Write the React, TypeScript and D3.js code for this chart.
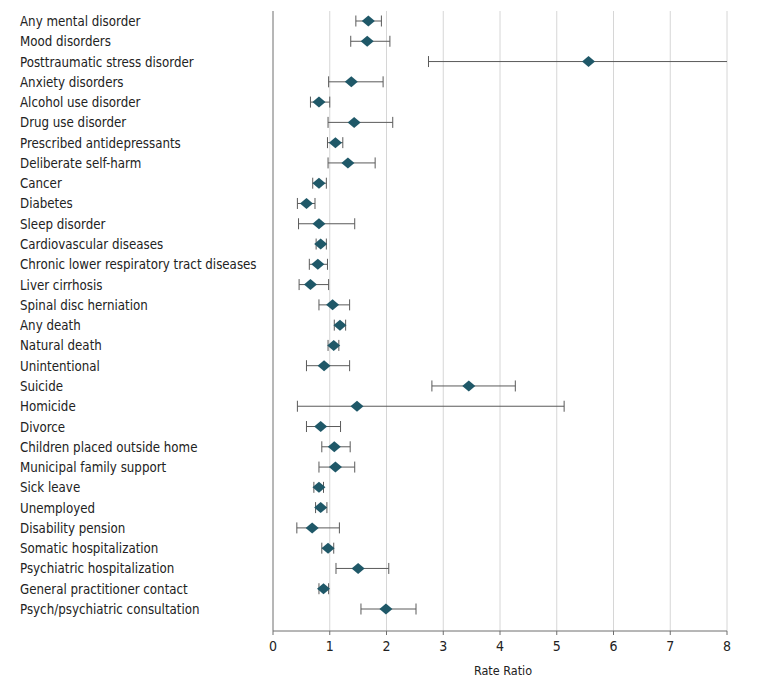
import React from "react";
import * as d3 from "d3";

const categories: string[] = [
  "Any mental disorder",
  "Mood disorders",
  "Posttraumatic stress disorder",
  "Anxiety disorders",
  "Alcohol use disorder",
  "Drug use disorder",
  "Prescribed antidepressants",
  "Deliberate self-harm",
  "Cancer",
  "Diabetes",
  "Sleep disorder",
  "Cardiovascular diseases",
  "Chronic lower respiratory tract diseases",
  "Liver cirrhosis",
  "Spinal disc herniation",
  "Any death",
  "Natural death",
  "Unintentional",
  "Suicide",
  "Homicide",
  "Divorce",
  "Children placed outside home",
  "Municipal family support",
  "Sick leave",
  "Unemployed",
  "Disability pension",
  "Somatic hospitalization",
  "Psychiatric hospitalization",
  "General practitioner contact",
  "Psych/psychiatric consultation",
];

const estimates: number[] = [
  1.68, 1.66, 5.56, 1.38, 0.81, 1.43, 1.1, 1.32, 0.81, 0.59, 0.81, 0.84, 0.79,
  0.66, 1.05, 1.18, 1.07, 0.9, 3.45, 1.48, 0.84, 1.08, 1.1, 0.81, 0.84, 0.69,
  0.97, 1.5, 0.89, 1.99,
];

const lower: number[] = [
  1.46, 1.37, 2.74, 0.98, 0.66, 0.97, 0.96, 0.97, 0.7, 0.43, 0.45, 0.76, 0.64,
  0.46, 0.81, 1.08, 0.97, 0.59, 2.8, 0.43, 0.59, 0.86, 0.81, 0.72, 0.75, 0.42,
  0.86, 1.11, 0.81, 1.55,
];

const upper: number[] = [
  1.91, 2.06, 9.5, 1.94, 1.0, 2.11, 1.23, 1.8, 0.94, 0.74, 1.44, 0.94, 0.96,
  0.98, 1.35, 1.28, 1.16, 1.35, 4.27, 5.13, 1.19, 1.36, 1.44, 0.89, 0.95, 1.17,
  1.07, 2.04, 0.98, 2.52,
];

const xTicks: number[] = [0, 1, 2, 3, 4, 5, 6, 7, 8];
const xLabel = "Rate Ratio";

const W = 783;
const H = 689;

export default function App() {
  const plotLeft = 273;
  const plotRight = 727;
  const plotTop = 11;
  const plotBottom = 631;

  const x = d3.scaleLinear().domain([0, 8]).range([plotLeft, plotRight]);
  const y = d3
    .scalePoint<string>()
    .domain(categories)
    .range([21, 609]);

  const teal = "#1f5868";
  const barColor = "#5a5a5a";
  const capH = 5.5;
  const dW = 6.5;
  const dH = 5.5;
  const font = "'DejaVu Sans Condensed', 'Roboto Condensed', sans-serif";

  return (
    <svg
      width={W}
      height={H}
      style={{ position: "absolute", left: 0, top: 0, background: "#fff" }}
    >
      <defs>
        <clipPath id="plotClip">
          <rect x={plotLeft} y={0} width={plotRight - plotLeft} height={H} />
        </clipPath>
      </defs>
      {/* gridlines */}
      {xTicks
        .filter((t) => t > 0)
        .map((t) => (
          <line
            key={"g" + t}
            x1={x(t)}
            x2={x(t)}
            y1={plotTop}
            y2={plotBottom}
            stroke="#d6d6d6"
            strokeWidth={1}
          />
        ))}
      {/* y axis line */}
      <line
        x1={x(0)}
        x2={x(0)}
        y1={plotTop}
        y2={plotBottom}
        stroke="#6e6e6e"
        strokeWidth={1}
      />
      {/* x axis */}
      <line
        x1={plotLeft}
        x2={plotRight}
        y1={plotBottom}
        y2={plotBottom}
        stroke="#6e6e6e"
        strokeWidth={1}
      />
      {xTicks.map((t) => (
        <g key={"t" + t}>
          <line
            x1={x(t)}
            x2={x(t)}
            y1={plotBottom}
            y2={plotBottom + 4}
            stroke="#6e6e6e"
            strokeWidth={1}
          />
          <text
            x={x(t)}
            y={plotBottom + 20}
            textAnchor="middle"
            fontFamily={font}
            fontSize={14}
            fill="#222"
          >
            {t}
          </text>
        </g>
      ))}
      <text
        x={(plotLeft + plotRight) / 2 + 3}
        y={675}
        textAnchor="middle"
        fontFamily={font}
        fontSize={12.5}
        fill="#222"
      >
        {xLabel}
      </text>
      {/* labels */}
      {categories.map((c) => (
        <text
          key={"l" + c}
          x={20}
          y={(y(c) as number) + 5}
          fontFamily={font}
          fontSize={13.2}
          fill="#222"
        >
          {c}
        </text>
      ))}
      {/* error bars */}
      <g clipPath="url(#plotClip)">
        {categories.map((c, i) => {
          const cy = y(c) as number;
          const lo = x(lower[i]);
          const hi = x(upper[i]);
          return (
            <g key={"e" + c}>
              <line x1={lo} x2={hi} y1={cy} y2={cy} stroke={barColor} strokeWidth={1} />
              <line x1={lo} x2={lo} y1={cy - capH} y2={cy + capH} stroke={barColor} strokeWidth={1} />
              <line x1={hi} x2={hi} y1={cy - capH} y2={cy + capH} stroke={barColor} strokeWidth={1} />
            </g>
          );
        })}
      </g>
      {/* diamonds */}
      {categories.map((c, i) => {
        const cy = y(c) as number;
        const cx = x(estimates[i]);
        const p = `M${cx - dW},${cy} L${cx},${cy - dH} L${cx + dW},${cy} L${cx},${cy + dH} Z`;
        return <path key={"d" + c} d={p} fill={teal} />;
      })}
    </svg>
  );
}
